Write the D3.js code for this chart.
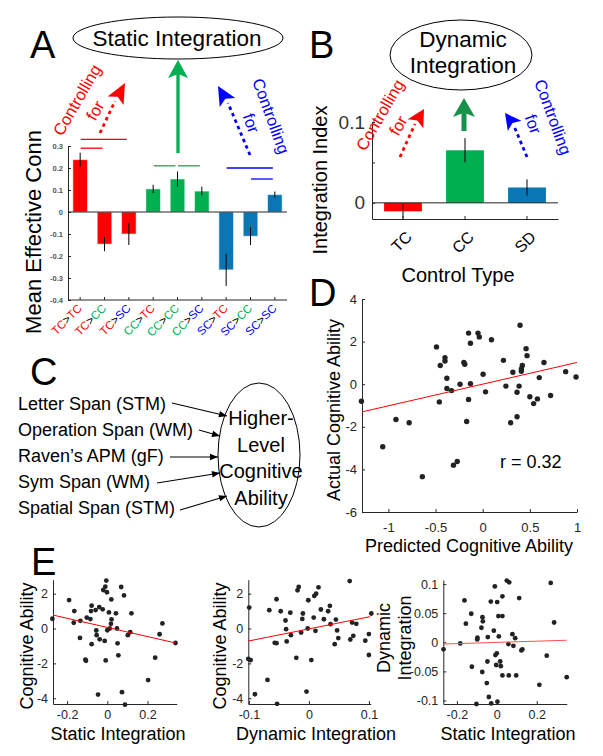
<!DOCTYPE html>
<html>
<head>
<meta charset="utf-8">
<script src="https://cdn.jsdelivr.net/npm/d3@7"></script>
<style>
body { margin: 0; background: #fff; }
svg { font-family: "Liberation Sans", Arial, sans-serif; }
</style>
</head>
<body>
<script>
// ---------- data ----------
// Panel A: mean effective connectivity
var connFrom = ["TC","TC","TC","CC","CC","CC","SC","SC","SC"];
var connTo   = ["TC","CC","SC","TC","CC","SC","TC","CC","SC"];
var connMean = [0.238, -0.146, -0.10, 0.105, 0.15, 0.095, -0.263, -0.11, 0.079];
var connErr  = [0.031, 0.032, 0.05, 0.019, 0.034, 0.02, 0.073, 0.04, 0.014];
var connTicks = [-0.4, -0.3, -0.2, -0.1, 0, 0.1, 0.2, 0.3];
// significance lines: [from bar, to bar, level, group]
var sigFrom  = [0, 0, 3, 4, 6, 7];
var sigTo    = [2, 1, 4, 5, 8, 8];
var sigLevel = [0.33, 0.29, 0.21, 0.21, 0.20, 0.15];
var sigGroup = ["TC","TC","CC","CC","SC","SC"];

// Panel B: integration index
var ctrlTypes = ["TC","CC","SD"];
var ctrlMean  = [-0.0105, 0.065, 0.019];
var ctrlErr   = [0.009, 0.015, 0.010];
var ctrlTicks = [0, 0.05, 0.1];

// Panel C: measures
var measures = ["Letter Span (STM)", "Operation Span (WM)", "Raven\u2019s APM (gF)", "Sym Span (WM)", "Spatial Span (STM)"];
var latentLines = ["Higher-", "Level", "Cognitive", "Ability"];

// Panel D: predicted vs actual
var predX = [-1.286,-1.06,-0.92,-0.78,-0.64,-0.49,-0.45,-0.46,-0.40,-0.40,-0.38,-0.38,-0.33,-0.31,-0.27,-0.24,-0.20,-0.19,-0.17,-0.15,-0.15,-0.13,-0.13,-0.05,-0.036,0.004,0.03,0.093,0.22,0.246,0.32,0.296,0.364,0.364,0.386,0.396,0.41,0.41,0.42,0.46,0.47,0.50,0.54,0.58,0.60,0.65,0.72,0.88,0.99];
var actY  = [-0.80,-2.94,-1.66,-1.81,-4.34,1.75,0.875,-0.83,1.25,1.09,0.28,-0.2,-0.30,-3.8,-3.63,0,1.02,0.94,-1.75,-0.72,2.4,1.92,0.02,2.4,2.22,0.47,-0.36,2.09,1.12,-0.09,0.56,-1.81,-1.53,-0.375,-0.09,2.77,0.61,0.72,0.875,1.67,1.34,-0.59,-0.91,-0.69,0.31,1.02,-0.53,0.59,0.34];
var fitDx = [-1.28, 1.0];
var fitDy = [-1.3, 1.02];

// Panel E1: static integration vs cognitive ability
var e1x = [-0.273,-0.19,-0.167,-0.164,-0.134,-0.136,-0.109,-0.106,-0.102,-0.084,-0.081,-0.078,-0.078,-0.058,-0.055,-0.053,-0.046,-0.04,-0.038,-0.023,-0.02,-0.013,-0.01,-0.008,-0.005,-0.002,0,0.008,0.012,0.018,0.02,0.021,0.043,0.048,0.051,0.055,0.069,0.073,0.083,0.088,0.102,0.114,0.12,0.203,0.238,0.26,0.274,0.339];
var e1y = [0.56,1.63,0.33,1.0,0.44,-0.54,-1.79,-1.85,0.63,0.54,1.0,1.31,-0.90,1.06,-0.115,-0.38,-3.79,1.23,-0.62,1.1,2.21,-0.71,2.4,-1.83,2.75,2.08,-0.1,0.92,0,0.27,1.67,0.52,0.87,0,-0.85,-1.54,2.38,-3.65,1.9,-4.37,-0.38,-0.21,0.87,-2.96,-1.67,-0.33,0.29,-0.83];
var fitE1x = [-0.27, 0.34];
var fitE1y = [0.77, -0.83];

// Panel E2: dynamic integration vs cognitive ability
var e2x = [-0.0995,-0.101,-0.097,-0.09,-0.069,-0.066,-0.057,-0.054,-0.054,-0.053,-0.047,-0.039,-0.038,-0.037,-0.031,-0.03,-0.021,-0.019,-0.017,-0.013,-0.011,-0.01,-0.004,-0.002,-0.001,0.004,0.008,0.009,0.011,0.012,0.016,0.02,0.025,0.032,0.035,0.036,0.043,0.045,0.047,0.049,0.068,0.069,0.072,0.074,0.079,0.094,0.1,0.1,0.104];
var e2y = [1.2,-1.75,-1.81,-3.77,-2.95,1.05,-0.82,-0.84,1.68,-4.32,0.99,0.46,-0.04,-0.74,0.91,-0.38,-1.68,2.19,2.38,-0.23,0.55,0.86,-3.62,0,1.62,-1.81,0.63,1.87,-0.13,2.0,2.36,1.09,0.53,0.99,1.3,0.25,-0.9,0.51,-0.11,-0.55,2.72,-0.63,0.34,-0.42,0.27,-0.7,-0.32,-1.52,0.86];
var fitE2x = [-0.101, 0.102];
var fitE2y = [-0.72, 0.68];

// Panel E3: static vs dynamic integration
var e3x = [-0.267,-0.183,-0.162,-0.155,-0.128,-0.125,-0.102,-0.098,-0.097,-0.077,-0.073,-0.072,-0.07,-0.05,-0.045,-0.047,-0.04,-0.03,-0.028,-0.015,-0.01,-0.007,-0.003,0,0.002,0.003,0.008,0.01,0.017,0.02,0.028,0.028,0.028,0.05,0.058,0.062,0.06,0.078,0.083,0.092,0.097,0.112,0.123,0.128,0.213,0.25,0.27,0.287,0.35];
var e3y = [-0.012,-0.002,0.072,0.032,0.049,-0.042,-0.106,0.005,0.008,0.025,-0.051,0.043,0.036,-0.07,0.009,-0.033,-0.094,0.07,-0.105,0.02,0.096,-0.022,-0.039,-0.019,0.069,-0.102,0.045,0.01,-0.033,-0.041,0.045,0.079,-0.057,0.106,-0.003,0.103,-0.057,0.014,-0.006,0.007,-0.057,0.076,-0.014,-0.012,-0.073,-0.023,0.102,0.034,-0.06];
var fitE3x = [-0.268, 0.35];
var fitE3y = [-0.003, 0.0035];

// ---------- setup ----------
var W = 603, H = 756;
var RED = "#ff0000", GREEN = "#00b050", BLUE = "#0000ff", BARBLUE = "#0a76b4";
var textColor = {TC: RED, CC: GREEN, SC: BLUE};
var barColor = {TC: RED, CC: GREEN, SC: BARBLUE, SD: BARBLUE};
var AX = "#262626";

var svg = d3.select("body").append("svg")
  .attr("width", W)
  .attr("height", H);

function fmt(d) { return String(+d.toFixed(2)); }

function styleAxis(g, fs, col) {
  g.attr("font-family", null).attr("font-size", fs);
  g.select(".domain").attr("stroke", AX);
  g.selectAll(".tick line").attr("stroke", AX);
  g.selectAll(".tick text").attr("fill", col);
}

function panelLetter(x, y, s) {
  svg.append("text").attr("x", x).attr("y", y).attr("font-size", 38).text(s);
}

// arrow head shaped like a dart, tip at (x,y), angle clockwise from "up"
function dart(x, y, angle, len, wid, color) {
  svg.append("path")
    .attr("d", "M0,0L" + (-wid / 2) + "," + len + "L0," + (len * 0.78) + "L" + (wid / 2) + "," + len + "Z")
    .attr("transform", "translate(" + x + "," + y + ") rotate(" + angle + ")")
    .attr("fill", color);
}

function dottedShaft(x1, y1, x2, y2, color) {
  svg.append("line")
    .attr("x1", x1).attr("y1", y1).attr("x2", x2).attr("y2", y2)
    .attr("stroke", color).attr("stroke-width", 2.8)
    .attr("stroke-dasharray", "3.5,3.5");
}

function controlling(cx, cy, angle, color) {
  var g = svg.append("g").attr("transform", "translate(" + cx + "," + cy + ") rotate(" + angle + ")");
  g.append("text").attr("text-anchor", "middle").attr("dy", "0.35em")
    .attr("font-size", 16.5).attr("fill", color).text("Controlling");
  g.append("text").attr("y", 21).attr("text-anchor", "middle").attr("dy", "0.35em")
    .attr("font-size", 16.5).attr("fill", color).text("for");
}

function rotText(x, y, size, s) {
  svg.append("text")
    .attr("transform", "translate(" + x + "," + y + ") rotate(-90)")
    .attr("text-anchor", "middle")
    .attr("font-size", size)
    .text(s);
}

// ---------- Panel A ----------
panelLetter(30, 58, "A");
svg.append("ellipse").attr("cx", 178).attr("cy", 38).attr("rx", 105).attr("ry", 21)
  .attr("fill", "none").attr("stroke", "#000").attr("stroke-width", 1);
svg.append("text").attr("x", 177).attr("y", 46).attr("text-anchor", "middle")
  .attr("font-size", 22.5).text("Static Integration");

var xA = d3.scaleBand().domain(d3.range(connMean.length)).range([68, 287])
  .paddingInner(0.4).paddingOuter(0.2);
var yA = d3.scaleLinear().domain([-0.4, 0.3]).range([300, 146]);
var cA = function(i) { return xA(i) + xA.bandwidth() / 2; };

var gA = svg.append("g");
gA.selectAll("rect.bar").data(connMean).enter().append("rect")
  .attr("class", "bar")
  .attr("x", function(d, i) { return xA(i); })
  .attr("width", xA.bandwidth())
  .attr("y", function(d) { return yA(Math.max(0, d)); })
  .attr("height", function(d) { return Math.abs(yA(d) - yA(0)); })
  .attr("fill", function(d, i) { return barColor[connFrom[i]]; })
  .attr("stroke", "#fff").attr("stroke-opacity", 0.55).attr("stroke-width", 1);

gA.selectAll("line.err").data(connMean).enter().append("line")
  .attr("class", "err")
  .attr("x1", function(d, i) { return cA(i); })
  .attr("x2", function(d, i) { return cA(i); })
  .attr("y1", function(d, i) { return yA(d - connErr[i]); })
  .attr("y2", function(d, i) { return yA(d + connErr[i]); })
  .attr("stroke", "#000").attr("stroke-width", 1);

var axA = gA.append("g").attr("transform", "translate(68,0)")
  .call(d3.axisLeft(yA).tickValues(connTicks).tickFormat(fmt).tickSizeInner(-3).tickSizeOuter(0).tickPadding(5));
styleAxis(axA, 7.5, "#555");
axA.selectAll(".tick text").attr("font-weight", "bold");

var axAb = gA.append("g").attr("transform", "translate(0,300)")
  .call(d3.axisBottom(xA).tickSizeInner(-3).tickSizeOuter(0).tickFormat(""));
styleAxis(axAb, 7.5, "#555");
axAb.select(".domain").attr("d", "M68,0H287");

gA.append("line").attr("x1", 68).attr("x2", 287).attr("y1", yA(0)).attr("y2", yA(0))
  .attr("stroke", AX).attr("stroke-width", 1);

connFrom.forEach(function(f, i) {
  var t = gA.append("text")
    .attr("transform", "translate(" + (cA(i) + 2.5) + ",309) rotate(-45)")
    .attr("text-anchor", "end")
    .attr("font-size", 11.5);
  t.append("tspan").attr("fill", textColor[f]).text(f);
  t.append("tspan").attr("fill", "#000").text(">");
  t.append("tspan").attr("fill", textColor[connTo[i]]).text(connTo[i]);
});

sigFrom.forEach(function(f, k) {
  gA.append("line")
    .attr("x1", cA(f) + 0.5).attr("x2", cA(sigTo[k]) - 2)
    .attr("y1", yA(sigLevel[k])).attr("y2", yA(sigLevel[k]))
    .attr("stroke", textColor[sigGroup[k]]).attr("stroke-width", 1.3);
});

rotText(41, 232, 22, "Mean Effective Conn");

// arrows panel A
svg.append("line").attr("x1", 178).attr("y1", 153).attr("x2", 178).attr("y2", 74)
  .attr("stroke", GREEN).attr("stroke-width", 3.3);
dart(178, 60, 0, 18, 20, GREEN);
dottedShaft(100, 133, 115, 101, RED);
dart(125, 83, 28, 20, 18, RED);
dottedShaft(250, 155, 228, 103, BLUE);
dart(218, 86, -30, 19, 18, BLUE);
controlling(77, 100, -60, RED);
controlling(271, 116, 70, BLUE);

// ---------- Panel B ----------
panelLetter(309, 58, "B");
svg.append("ellipse").attr("cx", 461).attr("cy", 55).attr("rx", 71).attr("ry", 35)
  .attr("fill", "none").attr("stroke", "#000").attr("stroke-width", 1);
svg.append("text").attr("x", 463).attr("y", 46.5).attr("text-anchor", "middle")
  .attr("font-size", 22.5).text("Dynamic");
svg.append("text").attr("x", 463).attr("y", 72.5).attr("text-anchor", "middle")
  .attr("font-size", 22.5).text("Integration");

var xB = d3.scaleBand().domain(ctrlTypes).range([372, 558]).paddingInner(0.39).paddingOuter(0.195);
var yB = d3.scaleLinear().domain([-0.02, 0.1]).range([219, 122]);
var gB = svg.append("g");
gB.selectAll("rect").data(ctrlMean).enter().append("rect")
  .attr("x", function(d, i) { return xB(ctrlTypes[i]); })
  .attr("width", xB.bandwidth())
  .attr("y", function(d) { return yB(Math.max(0, d)); })
  .attr("height", function(d) { return Math.abs(yB(d) - yB(0)); })
  .attr("fill", function(d, i) { return i === 0 ? RED : i === 1 ? GREEN : BARBLUE; });
gB.selectAll("line.err").data(ctrlMean).enter().append("line")
  .attr("class", "err")
  .attr("x1", function(d, i) { return xB(ctrlTypes[i]) + xB.bandwidth() / 2; })
  .attr("x2", function(d, i) { return xB(ctrlTypes[i]) + xB.bandwidth() / 2; })
  .attr("y1", function(d, i) { return yB(d - ctrlErr[i]); })
  .attr("y2", function(d, i) { return yB(d + ctrlErr[i]); })
  .attr("stroke", "#000").attr("stroke-width", 1);

var axB = gB.append("g").attr("transform", "translate(372,0)")
  .call(d3.axisLeft(yB).tickValues(ctrlTicks).tickSizeInner(-3).tickSizeOuter(0).tickPadding(7)
    .tickFormat(function(d) { return d === 0.05 ? "" : fmt(d); }));
styleAxis(axB, 19, "#333");
var axBb = gB.append("g").attr("transform", "translate(0,219)")
  .call(d3.axisBottom(xB).tickSizeInner(-3).tickSizeOuter(0).tickFormat(""));
styleAxis(axBb, 16, "#000");
gB.append("line").attr("x1", 372).attr("x2", 558).attr("y1", yB(0)).attr("y2", yB(0))
  .attr("stroke", AX).attr("stroke-width", 1);
ctrlTypes.forEach(function(c) {
  gB.append("text")
    .attr("transform", "translate(" + (xB(c) + xB.bandwidth() / 2 + 10) + ",238) rotate(-45)")
    .attr("text-anchor", "end").attr("font-size", 16).text(c);
});
svg.append("text").attr("x", 458).attr("y", 282).attr("text-anchor", "middle")
  .attr("font-size", 20).text("Control Type");
rotText(327, 180, 20, "Integration Index");

svg.append("line").attr("x1", 464).attr("y1", 131).attr("x2", 464).attr("y2", 112)
  .attr("stroke", "#16924a").attr("stroke-width", 5);
dart(464, 98, 0, 19, 22, "#16924a");
dottedShaft(400, 157, 415, 124, RED);
dart(424, 109, 30, 17, 18, RED);
dottedShaft(527, 157, 514, 126, BLUE);
dart(505, 113, -37, 16, 17, BLUE);
controlling(380, 115, -60, RED);
controlling(553, 117, 70, BLUE);

// ---------- Panel C ----------
panelLetter(30, 385, "C");
var defs = svg.append("defs");
defs.append("marker").attr("id", "ah").attr("viewBox", "0 -5 10 10")
  .attr("refX", 10).attr("refY", 0).attr("markerWidth", 9).attr("markerHeight", 8)
  .attr("markerUnits", "userSpaceOnUse").attr("orient", "auto")
  .append("path").attr("d", "M0,-4L10,0L0,4Z").attr("fill", "#000");

var arrowStart = [[172, 403], [199, 430], [170, 457], [157, 483], [180, 510]];
var arrowEnd   = [[227, 416], [220, 436], [218, 457], [220, 473], [227, 496]];
measures.forEach(function(m, i) {
  svg.append("text").attr("x", 18).attr("y", 410 + i * 26).attr("font-size", 18).text(m);
  svg.append("line")
    .attr("x1", arrowStart[i][0]).attr("y1", arrowStart[i][1])
    .attr("x2", arrowEnd[i][0]).attr("y2", arrowEnd[i][1])
    .attr("stroke", "#000").attr("stroke-width", 1.1)
    .attr("marker-end", "url(#ah)");
});
svg.append("ellipse").attr("cx", 259).attr("cy", 455).attr("rx", 41).attr("ry", 72)
  .attr("fill", "none").attr("stroke", "#000").attr("stroke-width", 1);
latentLines.forEach(function(s, i) {
  svg.append("text").attr("x", 261).attr("y", 425 + i * 26.7).attr("text-anchor", "middle")
    .attr("font-size", 20).text(s);
});

// ---------- scatter panels ----------
function scatterPanel(o) {
  var x = d3.scaleLinear().domain(o.xDomain).range([o.left, o.right]);
  var y = d3.scaleLinear().domain(o.yDomain).range([o.bottom, o.top]);
  var g = svg.append("g");
  var ax = g.append("g").attr("transform", "translate(0," + o.bottom + ")")
    .call(d3.axisBottom(x).tickValues(o.xTicks).tickFormat(fmt).tickSizeInner(-3).tickSizeOuter(0).tickPadding(o.xPad));
  styleAxis(ax, o.fs, AX);
  var ay = g.append("g").attr("transform", "translate(" + o.left + ",0)")
    .call(d3.axisLeft(y).tickValues(o.yTicks).tickFormat(fmt).tickSizeInner(-3).tickSizeOuter(0).tickPadding(5));
  styleAxis(ay, o.fs, AX);
  g.selectAll("circle").data(d3.zip(o.xs, o.ys)).enter().append("circle")
    .attr("cx", function(d) { return x(d[0]); })
    .attr("cy", function(d) { return y(d[1]); })
    .attr("r", o.r)
    .attr("fill", "#222");
  g.append("line")
    .attr("x1", x(o.fitX[0])).attr("y1", y(o.fitY[0]))
    .attr("x2", x(o.fitX[1])).attr("y2", y(o.fitY[1]))
    .attr("stroke", o.fitColor || RED).attr("stroke-width", 1);
  return g;
}

// Panel D
panelLetter(309, 306, "D");
scatterPanel({
  xs: predX, ys: actY, fitX: fitDx, fitY: fitDy,
  xDomain: [-1.28, 1], yDomain: [-6, 4],
  left: 362, right: 577, top: 299, bottom: 512,
  xTicks: [-1, -0.5, 0, 0.5, 1], yTicks: [-6, -4, -2, 0, 2, 4],
  fs: 13, xPad: 10.5, r: 2.7
});
svg.append("text").attr("x", 500).attr("y", 468).attr("font-size", 18).text("r = 0.32");
svg.append("text").attr("x", 469).attr("y", 552).attr("text-anchor", "middle")
  .attr("font-size", 18).text("Predicted Cognitive Ability");
rotText(340, 410, 18, "Actual Cognitive Ability");

// Panel E
panelLetter(31, 575, "E");
scatterPanel({
  xs: e1x, ys: e1y, fitX: fitE1x, fitY: fitE1y,
  xDomain: [-0.27, 0.345], yDomain: [-4.33, 2.8],
  left: 53, right: 176.7, top: 579.7, bottom: 704,
  xTicks: [-0.2, 0, 0.2], yTicks: [-4, -2, 0, 2],
  fs: 12.5, xPad: 6.5, r: 2.4
});
svg.append("text").attr("x", 118).attr("y", 740).attr("text-anchor", "middle")
  .attr("font-size", 18).text("Static Integration");
rotText(33, 646, 18, "Cognitive Ability");

scatterPanel({
  xs: e2x, ys: e2y, fitX: fitE2x, fitY: fitE2y,
  xDomain: [-0.101, 0.103], yDomain: [-4.33, 2.8],
  left: 248.3, right: 370.7, top: 579.7, bottom: 704,
  xTicks: [-0.1, 0, 0.1], yTicks: [-4, -2, 0, 2],
  fs: 12.5, xPad: 6.5, r: 2.4
});
svg.append("text").attr("x", 316).attr("y", 740).attr("text-anchor", "middle")
  .attr("font-size", 18).text("Dynamic Integration");
rotText(226, 646, 18, "Cognitive Ability");

scatterPanel({
  xs: e3x, ys: e3y, fitX: fitE3x, fitY: fitE3y,
  xDomain: [-0.268, 0.35], yDomain: [-0.106, 0.107],
  left: 443.3, right: 566.7, top: 580, bottom: 704,
  xTicks: [-0.2, 0, 0.2], yTicks: [-0.1, -0.05, 0, 0.05, 0.1],
  fs: 12.5, xPad: 6.5, r: 2.4, fitColor: "#ff5050"
});
svg.append("text").attr("x", 508).attr("y", 740).attr("text-anchor", "middle")
  .attr("font-size", 18).text("Static Integration");
rotText(390, 638, 18, "Dynamic");
rotText(411, 638, 18, "Integration");
</script>
</body>
</html>
